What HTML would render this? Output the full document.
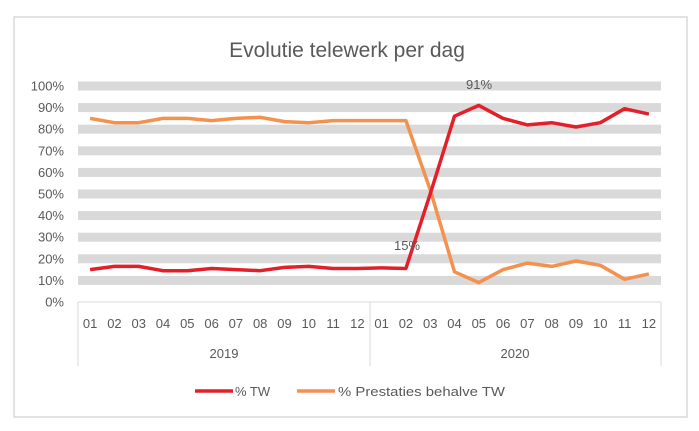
<!DOCTYPE html>
<html><head><meta charset="utf-8"><style>
html,body{margin:0;padding:0;background:#fff;width:699px;height:431px;overflow:hidden}
svg{display:block}
text{font-family:"Liberation Sans",sans-serif;fill:#595959}
</style></head><body>
<svg id="s" width="699" height="431" xmlns="http://www.w3.org/2000/svg">
<rect x="14" y="17" width="673" height="400" fill="#fff" stroke="#d9d9d9" stroke-width="1.5"/>
<text x="347" y="57" font-size="21" text-anchor="middle" fill="#595959">Evolutie telewerk per dag</text>
<g id="grid"></g>
<g id="ylab" font-size="13"></g>
<line x1="78" y1="302" x2="661" y2="302" stroke="#d9d9d9" stroke-width="1"/>
<line x1="78" y1="302" x2="78" y2="366" stroke="#d9d9d9"/>
<line x1="370" y1="302" x2="370" y2="366" stroke="#d9d9d9"/>
<line x1="661" y1="302" x2="661" y2="366" stroke="#d9d9d9"/>
<g id="xlab" font-size="13"></g>
<text x="224" y="358" font-size="13" text-anchor="middle">2019</text>
<text x="515" y="358" font-size="13" text-anchor="middle">2020</text>
<polyline id="or" fill="none" stroke="#f4914e" stroke-width="3.5" stroke-linejoin="round"/>
<polyline id="tw" fill="none" stroke="#e3202a" stroke-width="3.5" stroke-linejoin="round"/>
<text x="407" y="250" font-size="13" text-anchor="middle">15%</text>
<text x="479" y="89" font-size="13" text-anchor="middle">91%</text>
<line x1="195" y1="391" x2="233" y2="391" stroke="#e3202a" stroke-width="3.5"/>
<text x="235" y="396" font-size="13">% TW</text>
<line x1="297" y1="391" x2="335" y2="391" stroke="#f4914e" stroke-width="3.5"/>
<text x="338" y="396" font-size="13" textLength="167" lengthAdjust="spacingAndGlyphs">% Prestaties behalve TW</text>
</svg>
<script>
var ns="http://www.w3.org/2000/svg";
function el(t,a,p,txt){var e=document.createElementNS(ns,t);for(var k in a)e.setAttribute(k,a[k]);if(txt)e.textContent=txt;document.getElementById(p).appendChild(e);}
function Y(v){return 302-2.16*v;}
for(var v=10;v<=100;v+=10){el('rect',{x:78,y:Y(v)-4.5,width:583,height:9,fill:'#d9d9d9'},'grid');}
for(var v=0;v<=100;v+=10){el('text',{x:64,y:Y(v)+4.5,'text-anchor':'end'},'ylab',v+'%');}
var step=583/24;
for(var i=0;i<24;i++){var m=(i%12)+1;el('text',{x:78+step*(i+0.5),y:328,'text-anchor':'middle'},'xlab',(m<10?'0':'')+m);}
var tw=[15,16.5,16.5,14.5,14.5,15.5,15,14.5,16,16.5,15.5,15.5,15.8,15.5,50,86,91,85,82,83,81,83,89.5,87];
var or=[85,83,83,85,85,84,85,85.5,83.5,83,84,84,84,84,52,14,9,15,18,16.5,19,17,10.5,13];
function pts(a){return a.map(function(v,i){return (78+step*(i+0.5)).toFixed(1)+','+Y(v).toFixed(1);}).join(' ');}
document.getElementById('tw').setAttribute('points',pts(tw));
document.getElementById('or').setAttribute('points',pts(or));
</script>
</body></html>
